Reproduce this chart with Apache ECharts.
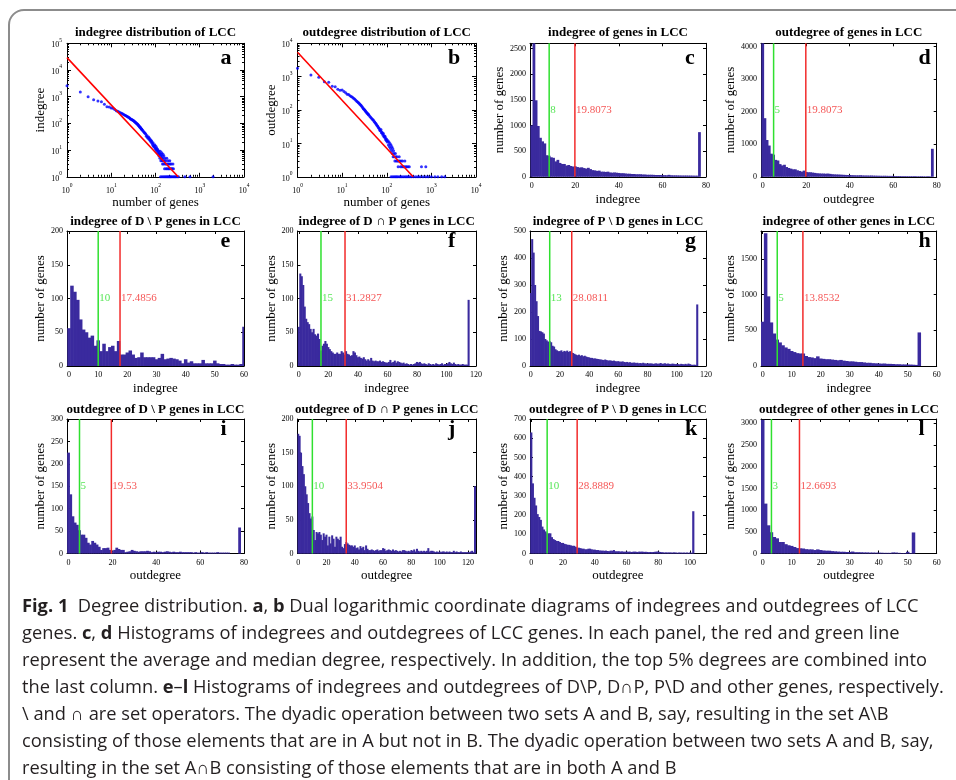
<!DOCTYPE html>
<html><head><meta charset="utf-8">
<script src="https://cdn.jsdelivr.net/npm/echarts@6/dist/echarts.min.js"></script>
<style>
html,body{margin:0;padding:0;background:#fff;}
body{width:956px;height:780px;overflow:hidden;position:relative;}
#frame{position:absolute;left:8px;top:9px;width:1000px;height:820px;border:2px solid #8c8c8c;border-radius:16px;box-sizing:border-box;}
#chart{position:absolute;left:0;top:0;width:956px;height:780px;}
#caption{position:absolute;left:22px;top:591px;font-family:'Open Sans',sans-serif;font-size:18.3px;line-height:27px;color:#231f20;white-space:nowrap;}
#caption b{font-weight:700;}
</style></head>
<body>
<div id="frame"></div>
<div id="chart"></div>
<div id="caption">
<div><b>Fig. 1</b>&nbsp; Degree distribution. <b>a</b>, <b>b</b> Dual logarithmic coordinate diagrams of indegrees and outdegrees of LCC</div>
<div>genes. <b>c</b>, <b>d</b> Histograms of indegrees and outdegrees of LCC genes. In each panel, the red and green line</div>
<div>represent the average and median degree, respectively. In addition, the top 5% degrees are combined into</div>
<div>the last column. <b>e</b>–<b>l</b> Histograms of indegrees and outdegrees of D\P, D∩P, P\D and other genes, respectively.</div>
<div>\ and ∩ are set operators. The dyadic operation between two sets A and B, say, resulting in the set A\B</div>
<div>consisting of those elements that are in A but not in B. The dyadic operation between two sets A and B, say,</div>
<div>resulting in the set A∩B consisting of those elements that are in both A and B</div>
</div>
<script>
// ---------------- DATA ----------------
// a: indegree distribution (degree, number of genes), log-log
const aPoints = [[1,2570],[2,1490],[3,990],[4,770],[5,690],[6,650],[7,520],[8,420],[9,410],[10,380],[11,370],[12,330],[13,300],[14,285],[15,265],[16,250],[17,240],[18,228],[19,215],[20,205],[21,196],[22,188],[23,180],[24,172],[25,166],[26,158],[27,150],[28,144],[29,140],[30,135],[31,130],[32,125],[33,120],[34,115],[35,110],[36,106],[37,102],[38,98],[39,94],[40,90],[41,86],[42,82],[43,78],[44,74],[45,71],[46,68],[47,65],[48,62],[49,60],[50,57],[52,53],[54,49],[56,46],[58,43],[60,40],[62,33],[64,35],[66,30],[68,28],[70,31],[72,25],[74,27],[76,22],[78,24],[80,20],[82,22],[84,18],[86,16],[88,19],[90,14],[92,15],[94,13],[96,16],[98,12],[100,11],[102,14],[104,10],[106,12],[108,9],[110,11],[112,8],[114,10],[116,7],[118,9],[120,6],[122,8],[124,7],[126,5],[128,9],[130,6],[132,4],[134,7],[136,5],[138,8],[140,4],[142,6],[144,3],[146,5],[148,7],[150,4],[152,3],[155,6],[158,4],[160,2],[163,5],[166,3],[170,4],[173,2],[176,3],[180,5],[184,2],[188,3],[192,4],[196,2],[200,3],[205,2],[210,4],[215,3],[220,2],[226,3],[232,2],[240,2],[248,3],[255,2],[130,1],[140,1],[150,1],[160,1],[170,1],[180,1],[190,1],[200,1],[210,1],[220,1],[230,1],[245,1],[260,1],[275,1],[290,1],[310,1],[330,1],[460,1],[600,1],[2000,1]];
const aFit = [[1,29000],[325,1]];
// b: outdegree distribution
const bPoints = [[1,1800],[2,1130],[3,960],[4,710],[5,680],[6,520],[7,500],[8,420],[9,390],[10,400],[11,360],[12,330],[13,300],[14,290],[15,270],[16,255],[17,240],[18,225],[19,215],[20,200],[21,188],[22,178],[23,168],[24,160],[25,150],[26,142],[27,134],[28,125],[29,118],[30,110],[31,106],[32,100],[33,95],[34,90],[35,86],[36,82],[37,79],[38,76],[39,73],[40,70],[42,64],[44,60],[46,56],[48,52],[50,50],[52,46],[54,43],[56,40],[58,38],[60,35],[62,33],[64,31],[66,29],[68,28],[70,25],[72,24],[74,26],[76,21],[78,22],[80,20],[82,18],[84,20],[86,16],[88,17],[90,15],[92,16],[94,13],[96,14],[98,12],[100,13],[103,11],[106,12],[109,9],[112,11],[115,8],[118,10],[121,7],[124,9],[127,6],[130,8],[133,5],[136,7],[139,4],[142,6],[145,5],[148,4],[152,3],[156,5],[160,4],[165,3],[170,4],[175,3],[180,2],[185,3],[190,4],[196,3],[203,2],[210,3],[218,2],[226,3],[235,2],[245,2],[255,3],[265,2],[280,2],[300,2],[320,2],[600,2],[750,2],[125,1],[135,1],[145,1],[155,1],[165,1],[175,1],[190,1],[205,1],[220,1],[240,1],[260,1],[280,1],[300,1],[330,1],[360,1],[400,1],[450,1],[500,1],[560,1],[650,1],[750,1],[850,1],[1000,1],[1200,1],[1400,1],[1700,1],[2000,1]];
const bFit = [[1,5400],[390,1]];

// histograms: counts indexed by degree 0,1,2,...; topBin = [position, count] of the combined top-5% column
const cCounts = [1000,2650,1490,990,760,690,650,420,410,380,370,300,330,270,250,250,220,230,210,200,205,190,180,185,170,160,175,150,130,125,115,120,100,100,95,100,85,80,85,80,75,70,70,65,60,60,55,55,50,50,50,45,45,40,40,40,38,35,35,35,33,32,30,38,30,28,28,27,26,25,25,25,24,24,23,22,22];
const cTopBin = [77, 870]; const cMedian = 8; const cMean = 19.8073;
const dCounts = [4150,1800,1130,960,710,680,520,500,390,350,370,300,270,250,230,230,200,180,160,190,150,140,140,130,120,110,105,100,100,95,100,90,80,75,72,70,66,62,58,55,55,50,48,45,45,48,42,40,40,38,40,36,35,33,32,30,32,30,28,28,26,25,25,24,22,22,21,20,20,20,22,18,18,20,17,16,20,16];
const dTopBin = [78, 860]; const dMedian = 5; const dMean = 19.8073;
const eCounts = [56,119,110,98,69,54,50,42,45,30,38,22,33,22,28,30,22,37,17,17,20,23,17,12,13,20,13,13,13,13,10,12,18,10,11,12,11,10,8,4,10,5,7,4,4,4,9,4,4,4,8,4,3,3,2,2,3,2,2,3];
const eTopBin = [60, 58]; const eMedian = 10; const eMean = 17.4856;
const fCounts = [58,137,133,120,88,70,65,62,55,50,55,47,45,48,40,23,30,33,37,33,28,25,22,20,18,18,20,18,18,22,20,17,22,18,17,15,16,22,20,16,13,14,12,11,13,10,8,10,8,12,8,7,8,7,7,8,6,7,6,5,5,6,9,5,6,8,5,7,6,5,4,5,3,4,3,2,3,2,3,4,6,5,6,4,3,4,3,2,4,3,2,3,2,4,3,2,3,4,2,3,3,4,6,4,3,5,3,2,3,2,2,3,2,2,2];
const fTopBin = [115, 98]; const fMedian = 15; const fMean = 31.2827;
const gCounts = [270,470,420,300,240,185,130,128,125,120,100,95,90,92,88,75,72,62,58,55,55,58,52,56,54,57,52,55,50,48,45,42,40,42,38,40,36,38,35,33,32,30,30,28,28,27,26,25,24,23,22,24,22,20,21,20,19,20,18,17,18,16,16,17,15,14,15,13,14,12,12,13,11,12,10,11,10,12,10,9,10,9,10,9,8,9,10,8,9,11,8,9,10,8,9,8,7,9,8,7,8,7,6,8,7,6,8,6,9,7,5,4,5,4];
const gTopBin = [114, 228]; const gMedian = 13; const gMean = 28.0811;
const hCounts = [620,1860,975,610,455,370,330,290,260,240,210,195,180,175,175,140,125,120,110,135,105,100,95,95,90,85,80,85,75,70,65,65,60,55,55,50,45,45,40,38,35,33,35,30,30,28,25,25,22,22,20,20,18,15];
const hTopBin = [54, 470]; const hMedian = 5; const hMean = 13.8532;
const iCounts = [225,132,83,69,64,52,42,42,35,24,20,28,24,20,15,8,12,12,13,8,5,8,13,10,8,8,3,4,5,8,6,5,4,5,5,5,6,5,3,4,3,4,4,3,4,5,4,3,4,3,3,4,3,3,3,3,3,2,3,2,2,3,2,3,2,2,2,2,3,2,2,2,2,2,0,0,0,0];
const iTopBin = [78, 58]; const iMedian = 5; const iMean = 19.53;
const jCounts = [178,175,150,130,118,100,88,75,60,52,55,35,20,32,30,32,28,20,30,25,28,12,25,15,27,22,10,25,22,20,25,10,8,14,17,15,13,12,12,10,12,8,9,6,11,8,10,5,12,7,5,5,6,5,4,5,6,4,5,5,8,7,4,5,6,5,4,6,4,5,4,3,4,3,5,5,4,3,4,3,5,4,6,3,7,4,3,4,3,4,3,4,8,3,4,4,3,2,3,2,3,2,3,3,2,3,2,3,2,2,4,2,3,2,2,3,2,2,2,2,2,2,3,4,2];
const jTopBin = [125, 100]; const jMedian = 10; const jMean = 33.9504;
const kCounts = [630,365,290,250,205,190,175,140,125,115,105,105,105,85,75,70,65,65,60,55,55,50,48,45,45,42,40,40,35,30,30,28,25,25,22,22,25,25,22,20,20,18,18,16,15,15,14,15,13,12,15,14,18,12,11,12,10,11,10,9,10,9,10,8,9,10,9,8,10,9,10,8,9,8,7,8,7,8,9,10,10,8,7,6,5,6,5,6,5,5,6,5,4,5,5,4,5,4,5,4,5,4];
const kTopBin = [102, 220]; const kMedian = 10; const kMean = 28.8889;
const lCounts = [3080,1150,650,490,380,350,265,265,215,190,175,150,125,120,115,100,95,95,80,95,80,70,65,65,55,50,45,40,40,35,35,45,30,30,28,25,25,22,22,20,20,18,15,15,15,25,22,15,12,12,40,12];
const lTopBin = [52, 485]; const lMedian = 3; const lMean = 12.6693;

// tick labels
const logTicksX = [1,10,100,1000,10000];
const logTicksYa = [1,10,100,1000,10000,100000];
const logTicksYb = [1,10,100,1000,10000];
const xTicks60 = [0,10,20,30,40,50,60];
const xTicks80 = [0,20,40,60,80];
const xTicks100 = [0,20,40,60,80,100];
const xTicks120 = [0,20,40,60,80,100,120];
const yTicks200 = [0,50,100,150,200];
const yTicksC = [0,500,1000,1500,2000,2500];
const yTicksD = [0,1000,2000,3000,4000];
const yTicksG = [0,100,200,300,400,500];
const yTicksH = [0,500,1000,1500];
const yTicksI = [0,50,100,150,200,250,300];
const yTicksK = [0,100,200,300,400,500,600,700];
const yTicksL = [0,500,1000,1500,2000,2500,3000];

// ---------------- LAYOUT / STYLE ----------------
const FONT = "'Liberation Serif','Times New Roman',serif";
const BAR = '#3a2a9e', RED = '#f22b2b', GREEN = '#2fe02f', DOT = '#0000ff';
const colLeft = [67, 297.5, 530, 761];
const colWidth = [177, 178.5, 176, 175.7];
const rowTop = [43.3, 231, 419];
const rowHeight = [133.5, 135, 134.5];
const titleY = [32.3, 221.3, 409.5];
const letterY = [58, 241, 429.7];
const letterDx = [153.5, 150.5, 155, 157.5];

const panels = [
  {log:true, letter:'a', title:'indegree distribution of LCC', xName:'number of genes', yName:'indegree', pts:aPoints, fit:aFit, yMax:100000, xTicks:logTicksX, yTicks:logTicksYa, yNameGap:20},
  {log:true, letter:'b', title:'outdegree distribution of LCC', xName:'number of genes', yName:'outdegree', pts:bPoints, fit:bFit, yMax:10000, xTicks:logTicksX, yTicks:logTicksYb, yNameGap:18.5},
  {letter:'c', title:'indegree of genes in LCC', xName:'indegree', counts:cCounts, top:cTopBin, median:cMedian, mean:cMean, xMin:-0.8, xMax:80, xTicks:xTicks80, yMax:2600, yTicks:yTicksC, yNameGap:23.5},
  {letter:'d', title:'outdegree of genes in LCC', xName:'outdegree', counts:dCounts, top:dTopBin, median:dMedian, mean:dMean, xMin:-0.8, xMax:80, xTicks:xTicks80, yMax:4100, yTicks:yTicksD, yNameGap:24},
  {letter:'e', title:'indegree of D \\ P genes in LCC', xName:'indegree', counts:eCounts, top:eTopBin, median:eMedian, mean:eMean, xMin:-0.7, xMax:60, xTicks:xTicks60, yMax:200, yTicks:yTicks200, yNameGap:19.5},
  {letter:'f', title:'indegree of D \u2229 P genes in LCC', xName:'indegree', counts:fCounts, top:fTopBin, median:fMedian, mean:fMean, xMin:-0.9, xMax:120, xTicks:xTicks120, yMax:200, yTicks:yTicks200, yNameGap:19},
  {letter:'g', title:'indegree of P \\ D genes in LCC', xName:'indegree', counts:gCounts, top:gTopBin, median:gMedian, mean:gMean, xMin:-0.5, xMax:120, xTicks:xTicks120, yMax:500, yTicks:yTicksG, yNameGap:20},
  {letter:'h', title:'indegree of other genes in LCC', xName:'indegree', counts:hCounts, top:hTopBin, median:hMedian, mean:hMean, xMin:-0.6, xMax:60, xTicks:xTicks60, yMax:1890, yTicks:yTicksH, yNameGap:24},
  {letter:'i', title:'outdegree of D \\ P genes in LCC', xName:'outdegree', counts:iCounts, top:iTopBin, median:iMedian, mean:iMean, xMin:-0.7, xMax:80, xTicks:xTicks80, yMax:300, yTicks:yTicksI, yNameGap:19.5},
  {letter:'j', title:'outdegree of D \u2229 P genes in LCC', xName:'outdegree', counts:jCounts, top:jTopBin, median:jMedian, mean:jMean, xMin:-0.5, xMax:125.7, xTicks:xTicks120, yMax:200, yTicks:yTicks200, yNameGap:19},
  {letter:'k', title:'outdegree of P \\ D genes in LCC', xName:'outdegree', counts:kCounts, top:kTopBin, median:kMedian, mean:kMean, xMin:-0.8, xMax:110, xTicks:xTicks100, yMax:700, yTicks:yTicksK, yNameGap:19.5},
  {letter:'l', title:'outdegree of other genes in LCC', xName:'outdegree', counts:lCounts, top:lTopBin, median:lMedian, mean:lMean, xMin:-0.6, xMax:60, xTicks:xTicks60, yMax:3100, yTicks:yTicksL, yNameGap:24}
];

function minorLogTicks(maxVal){
  const out = [];
  for (let d = 1; d < maxVal; d *= 10) for (let m = 2; m <= 9; m++) out.push(m * d);
  return out;
}

const grid = [], xAxis = [], yAxis = [], series = [], graphic = [];
const black = {color:'#000', width:1};
const nameStyle = {fontFamily:FONT, fontSize:13, color:'#000'};
const tickLabel = {fontFamily:FONT, fontSize:8, color:'#000', formatter:(v) => String(v)};

function barRender(params, api){
  const x = api.value(0), y = api.value(1);
  const p0 = api.coord([x - 0.5, y]);
  const p1 = api.coord([x + 0.5, 0]);
  const cs = params.coordSys;
  const r = echarts.graphic.clipRectByRect(
    {x:p0[0] - 0.3, y:p0[1], width:p1[0]-p0[0] + 0.6, height:p1[1]-p0[1]},
    {x:cs.x, y:cs.y, width:cs.width, height:cs.height});
  if (!r) return null;
  return {type:'rect', shape:r, style:{fill:BAR}};
}

const logRich = {
  b:{fontFamily:FONT, fontSize:8, color:'#000', lineHeight:12, verticalAlign:'bottom'},
  s:{fontFamily:FONT, fontSize:5.5, color:'#000', lineHeight:12, verticalAlign:'top'}
};
function logFmt(v){ return '{b|10}{s|' + Math.round(Math.log10(v)) + '}'; }

panels.forEach((p, i) => {
  const r = Math.floor(i / 4), c = i % 4;
  const g = {left:colLeft[c], top:rowTop[r], width:colWidth[c], height:rowHeight[r], containLabel:false, outerBoundsMode:'none'};
  grid.push(g);
  const xi = xAxis.length, yi = yAxis.length;
  if (p.log) {
    const xr = {type:'log', logBase:10, min:1, max:10000};
    const yr = {type:'log', logBase:10, min:1, max:p.yMax};
    const mx = minorLogTicks(10000), my = minorLogTicks(p.yMax);
    xAxis.push(Object.assign({gridIndex:i, position:'bottom', axisLine:{show:true, onZero:false, lineStyle:black},
      axisTick:{show:true, inside:true, length:4, customValues:p.xTicks, lineStyle:black},
      axisLabel:{show:true, customValues:p.xTicks, margin:6, formatter:logFmt, rich:logRich},
      splitLine:{show:false}, minorTick:{show:false},
      name:p.xName, nameLocation:'middle', nameGap:17, nameTextStyle:nameStyle}, xr));
    xAxis.push(Object.assign({gridIndex:i, position:'bottom', axisLine:{show:false}, axisTick:{show:true, inside:true, length:2, customValues:mx, lineStyle:black}, axisLabel:{show:false}, splitLine:{show:false}}, xr));
    xAxis.push(Object.assign({gridIndex:i, position:'top', axisLine:{show:true, onZero:false, lineStyle:black}, axisTick:{show:true, inside:true, length:4, customValues:p.xTicks, lineStyle:black}, axisLabel:{show:false}, splitLine:{show:false}}, xr));
    xAxis.push(Object.assign({gridIndex:i, position:'top', axisLine:{show:false}, axisTick:{show:true, inside:true, length:2, customValues:mx, lineStyle:black}, axisLabel:{show:false}, splitLine:{show:false}}, xr));
    yAxis.push(Object.assign({gridIndex:i, position:'left', axisLine:{show:true, onZero:false, lineStyle:black},
      axisTick:{show:true, inside:true, length:4, customValues:p.yTicks, lineStyle:black},
      axisLabel:{show:true, customValues:p.yTicks, margin:5, formatter:logFmt, rich:logRich},
      splitLine:{show:false},
      name:p.yName, nameLocation:'middle', nameGap:p.yNameGap, nameTextStyle:nameStyle}, yr));
    yAxis.push(Object.assign({gridIndex:i, position:'left', axisLine:{show:false}, axisTick:{show:true, inside:true, length:2, customValues:my, lineStyle:black}, axisLabel:{show:false}, splitLine:{show:false}}, yr));
    yAxis.push(Object.assign({gridIndex:i, position:'right', axisLine:{show:true, onZero:false, lineStyle:black}, axisTick:{show:true, inside:true, length:4, customValues:p.yTicks, lineStyle:black}, axisLabel:{show:false}, splitLine:{show:false}}, yr));
    yAxis.push(Object.assign({gridIndex:i, position:'right', axisLine:{show:false}, axisTick:{show:true, inside:true, length:2, customValues:my, lineStyle:black}, axisLabel:{show:false}, splitLine:{show:false}}, yr));
    series.push({type:'scatter', xAxisIndex:xi, yAxisIndex:yi, data:p.pts, symbol:'circle', symbolSize:3, itemStyle:{color:DOT}, silent:true, animation:false, z:2});
    series.push({type:'line', xAxisIndex:xi, yAxisIndex:yi, data:p.fit, symbol:'none', lineStyle:{color:'#ff0000', width:1.6}, silent:true, animation:false, z:3});
  } else {
    const xr = {type:'value', min:p.xMin, max:p.xMax};
    const yr = {type:'value', min:0, max:p.yMax};
    xAxis.push(Object.assign({gridIndex:i, position:'bottom', axisLine:{show:true, onZero:false, lineStyle:black},
      axisTick:{show:true, inside:true, length:3, customValues:p.xTicks, lineStyle:black},
      axisLabel:Object.assign({show:true, customValues:p.xTicks, margin:5}, tickLabel),
      splitLine:{show:false},
      name:p.xName, nameLocation:'middle', nameGap:16, nameTextStyle:nameStyle}, xr));
    xAxis.push(Object.assign({gridIndex:i, position:'top', axisLine:{show:true, onZero:false, lineStyle:black},
      axisTick:{show:true, inside:true, length:3, customValues:p.xTicks, lineStyle:black},
      axisLabel:{show:false}, splitLine:{show:false}}, xr));
    yAxis.push(Object.assign({gridIndex:i, position:'left', axisLine:{show:true, onZero:false, lineStyle:black},
      axisTick:{show:true, inside:true, length:3, customValues:p.yTicks, lineStyle:black},
      axisLabel:Object.assign({show:true, customValues:p.yTicks, margin:4}, tickLabel),
      splitLine:{show:false},
      name:'number of genes', nameLocation:'middle', nameGap:p.yNameGap, nameTextStyle:nameStyle}, yr));
    yAxis.push(Object.assign({gridIndex:i, position:'right', axisLine:{show:true, onZero:false, lineStyle:black},
      axisTick:{show:true, inside:true, length:3, customValues:p.yTicks, lineStyle:black},
      axisLabel:{show:false}, splitLine:{show:false}}, yr));
    const data = p.counts.map((v, k) => [k, v]);
    data.push([p.top[0], p.top[1]]);
    series.push({type:'custom', xAxisIndex:xi, yAxisIndex:yi, data:data, renderItem:barRender, silent:true, animation:false, z:2});
    series.push({type:'line', xAxisIndex:xi, yAxisIndex:yi, data:[[p.median,0],[p.median,p.yMax]], symbol:'none', lineStyle:{color:GREEN, width:1.5}, silent:true, animation:false, z:3});
    series.push({type:'line', xAxisIndex:xi, yAxisIndex:yi, data:[[p.mean,0],[p.mean,p.yMax]], symbol:'none', lineStyle:{color:RED, width:1.5}, silent:true, animation:false, z:3});
    series.push({type:'scatter', xAxisIndex:xi, yAxisIndex:yi, data:[[p.median, p.yMax/2]], symbolSize:0, silent:true, animation:false, z:4,
      label:{show:true, position:'right', distance:1, formatter:String(p.median), color:GREEN, fontFamily:FONT, fontSize:11}});
    series.push({type:'scatter', xAxisIndex:xi, yAxisIndex:yi, data:[[p.mean, p.yMax/2]], symbolSize:0, silent:true, animation:false, z:4,
      label:{show:true, position:'right', distance:1, formatter:String(p.mean), color:RED, fontFamily:FONT, fontSize:11}});
  }
  graphic.push({type:'text', x:g.left + g.width/2, y:titleY[r], silent:true,
    style:{text:p.title, font:'bold 13px ' + FONT, fill:'#000', textAlign:'center', textVerticalAlign:'middle', align:'center', verticalAlign:'middle'}});
  graphic.push({type:'text', x:g.left + letterDx[c], y:letterY[r], silent:true,
    style:{text:p.letter, font:'bold 22px ' + FONT, fill:'#000', textAlign:'left', textVerticalAlign:'middle', align:'left', verticalAlign:'middle'}});
});

const chart = echarts.init(document.getElementById('chart'), null, {renderer:'canvas'});
chart.setOption({
  animation:false,
  backgroundColor:'transparent',
  grid:grid, xAxis:xAxis, yAxis:yAxis, series:series, graphic:graphic,
  tooltip:{show:false}
});
</script>
</body></html>
